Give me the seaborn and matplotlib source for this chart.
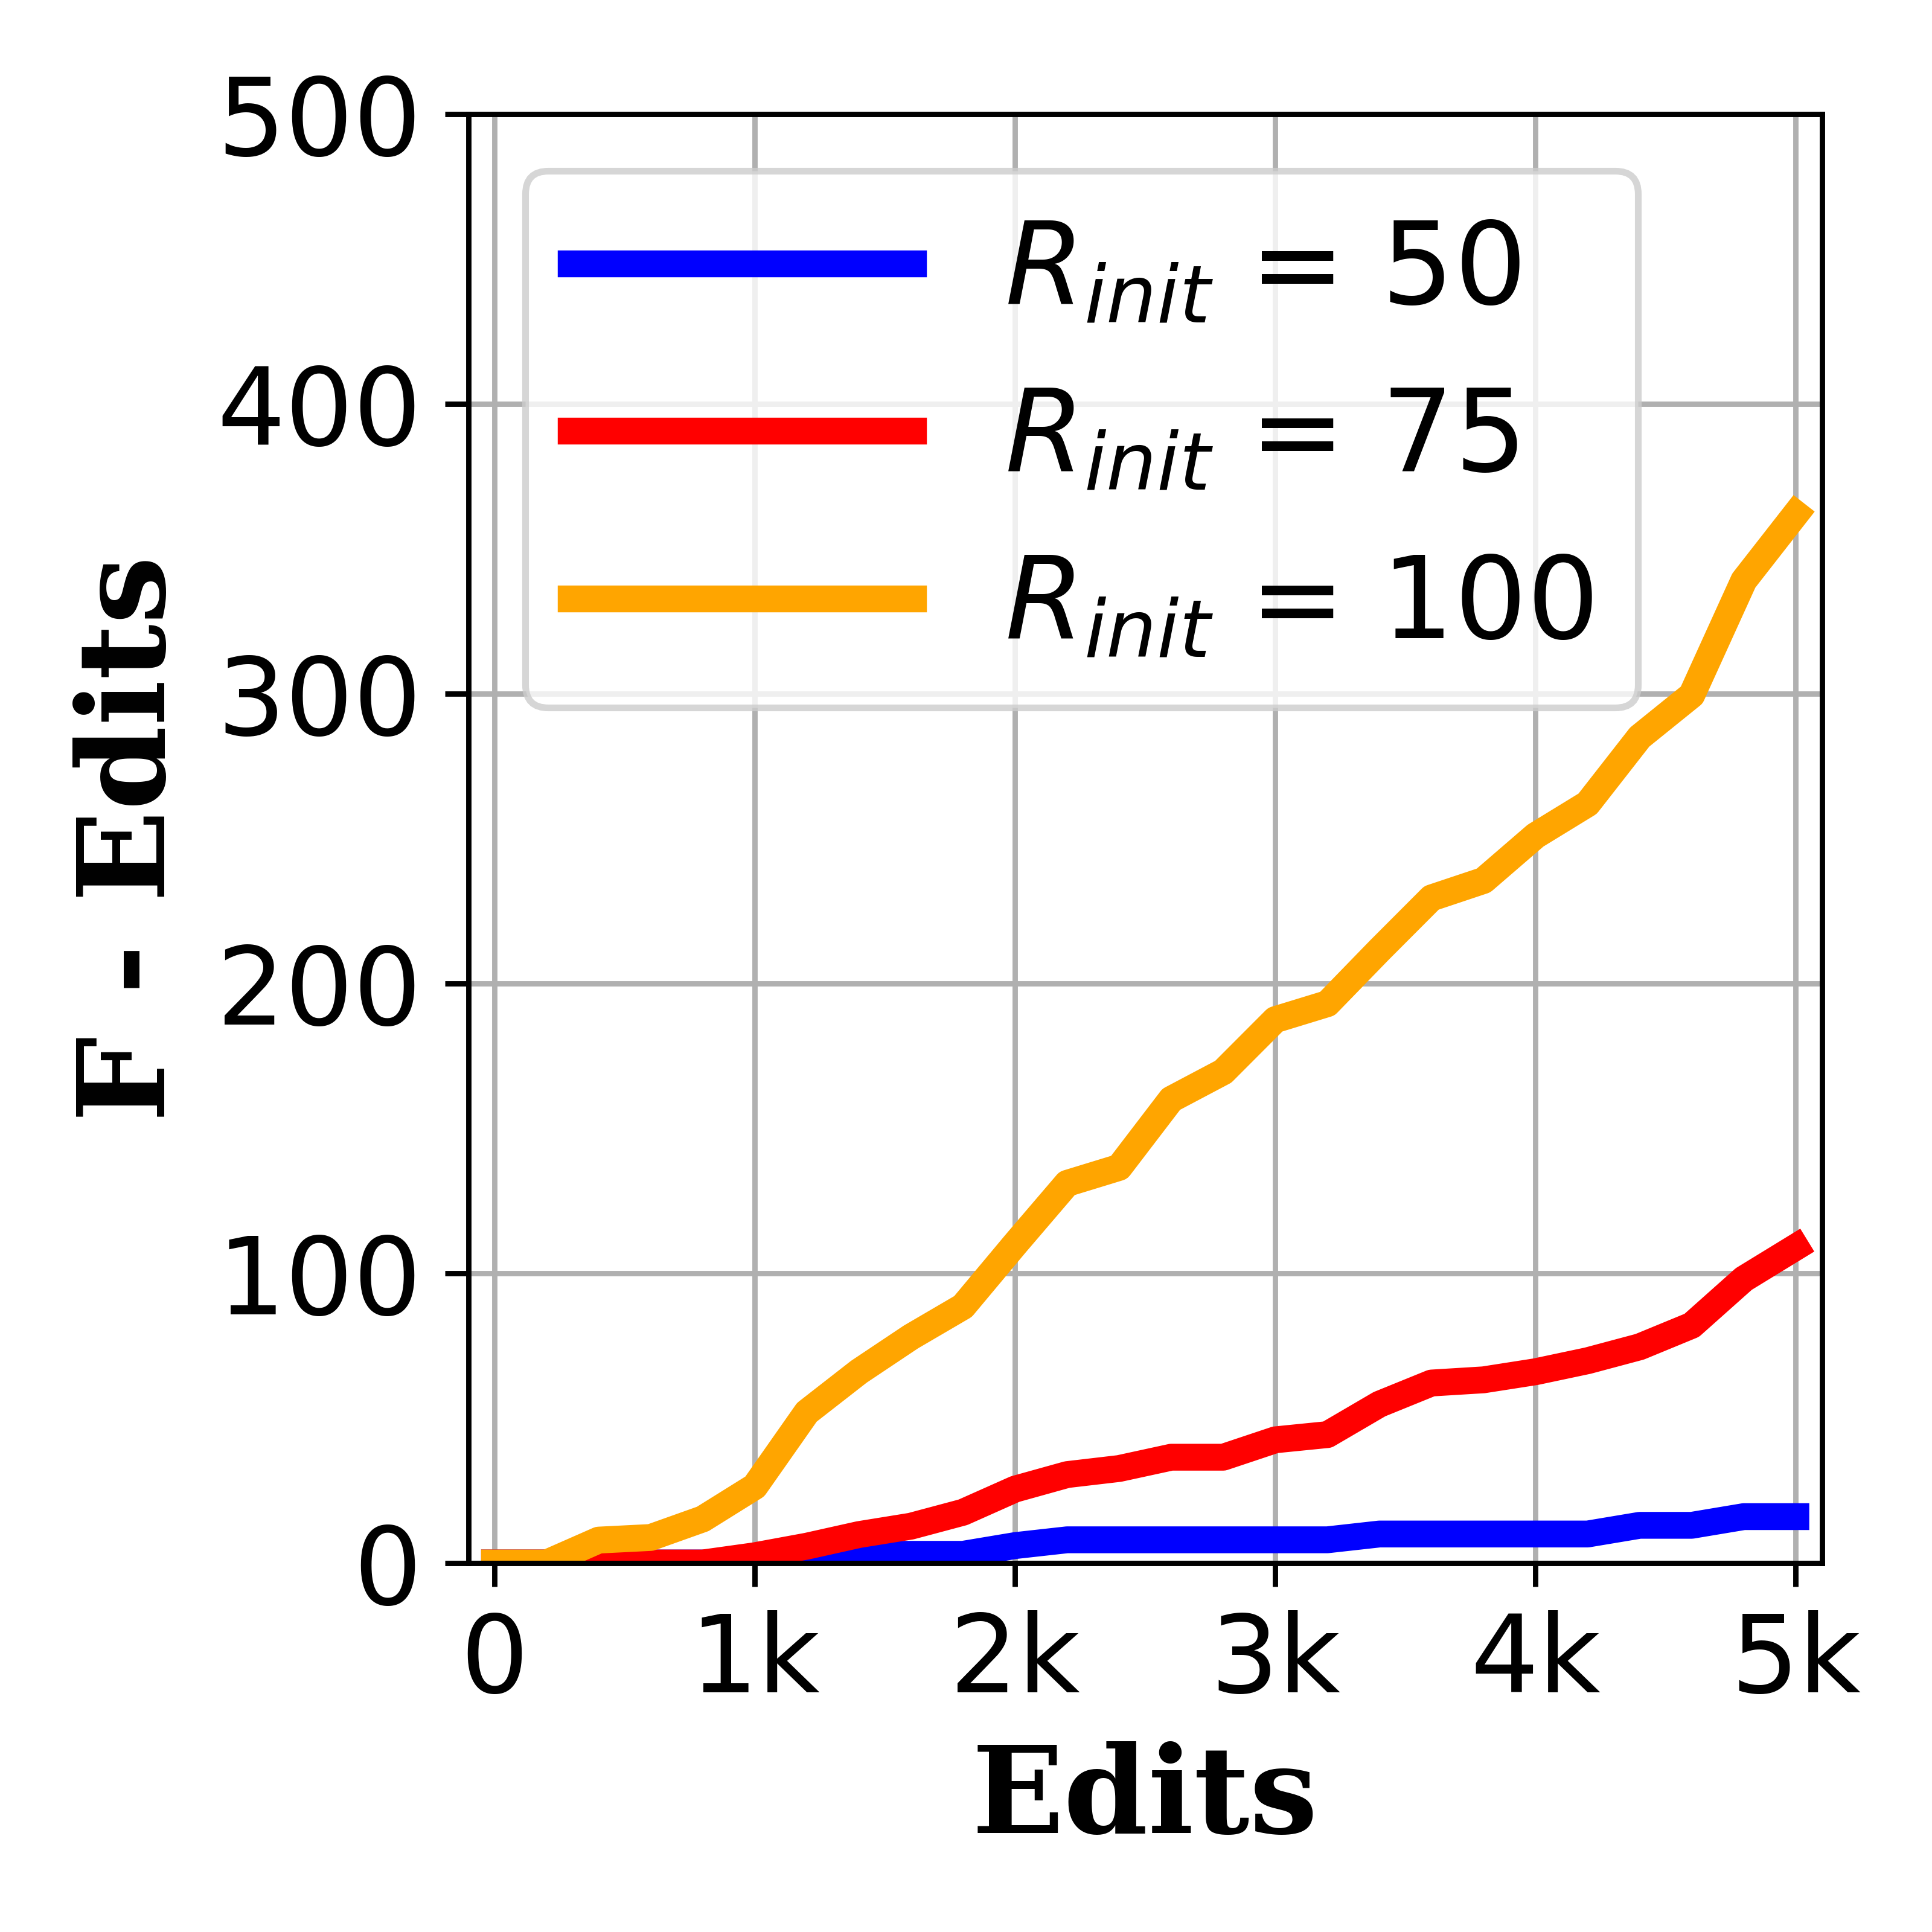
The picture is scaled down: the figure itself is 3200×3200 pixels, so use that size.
import matplotlib
matplotlib.use("Agg")
import matplotlib.pyplot as plt
import pandas as pd
import seaborn as sns

# données
edits = [0, 200, 400, 600, 800, 1000, 1200, 1400, 1600, 1800, 2000, 2200, 2400,
         2600, 2800, 3000, 3200, 3400, 3600, 3800, 4000, 4200, 4400, 4600, 4800, 5000]
r50 = [0, 0, 0, 0, 0, 0, 0, 3, 3, 3, 6, 8, 8, 8, 8, 8, 8, 10, 10, 10, 10, 10, 13, 13, 16, 16]
r75 = [0, 0, 0, 0, 0, 2.5, 5.8, 9.8, 12.7, 17.5, 25.5, 30.5, 32.6, 36.5, 36.5, 42.5, 44.3,
       54.8, 62.1, 63.2, 66, 69.8, 74.6, 82, 98, 109]
r100 = [0, 0, 7.9, 8.8, 15.2, 26.4, 52, 66, 78, 88.5, 110, 131, 136.5, 160, 169.5, 187.5,
        193, 211.5, 229.5, 235.5, 251, 262, 285, 299.5, 339, 362]

labels = [r'$R_{init}$ = 50', r'$R_{init}$ = 75', r'$R_{init}$ = 100']
colors = ['blue', 'red', 'orange']
xtick_labels = ['0', '1k', '2k', '3k', '4k', '5k']

df = pd.DataFrame({'Edits': edits, 'r50': r50, 'r75': r75, 'r100': r100})

fig, ax = plt.subplots(figsize=(4, 4))
fig.subplots_adjust(left=0.2425, right=0.943, bottom=0.191, top=0.941)

for col, lab, c in zip(['r50', 'r75', 'r100'], labels, colors):
    sns.lineplot(data=df, x='Edits', y=col, color=c, linewidth=4, label=lab, ax=ax)

ax.set_xlim(-100, 5100)
ax.set_ylim(0, 500)
ax.set_xticks([0, 1000, 2000, 3000, 4000, 5000])
ax.set_xticklabels(xtick_labels)
ax.set_yticks([0, 100, 200, 300, 400, 500])
ax.tick_params(labelsize=16)
ax.grid(True)

ax.set_xlabel('Edits', fontsize=18, fontweight='bold', family='DejaVu Serif')
ax.set_ylabel('F - Edits', fontsize=18, fontweight='bold', family='DejaVu Serif')

ax.legend(loc='upper left', fontsize=17, handlelength=3.0, labelspacing=0.5)

plt.savefig('out.png', dpi=800)
